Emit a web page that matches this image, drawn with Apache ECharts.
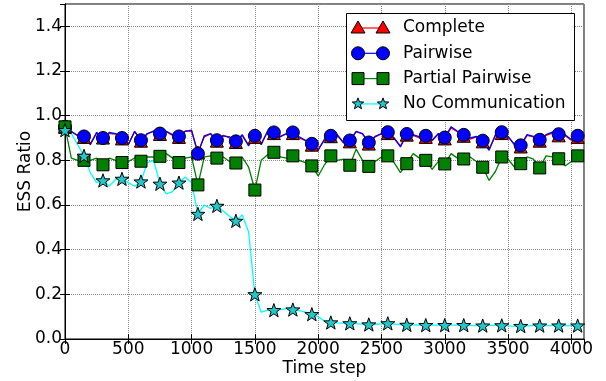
<!DOCTYPE html>
<html>
<head>
<meta charset="utf-8">
<script src="https://cdn.jsdelivr.net/npm/echarts@6/dist/echarts.min.js"></script>
<style>
html, body { margin: 0; padding: 0; background: #fff; }
#chart { width: 606px; height: 381px; }
</style>
</head>
<body>
<div id="chart"></div>
<script>
// time steps sampled every 50, markers every 150 (every 3rd point)
const steps = [0, 50, 100, 150, 200, 250, 300, 350, 400, 450,
  500, 550, 600, 650, 700, 750, 800, 850, 900, 950,
  1000, 1050, 1100, 1150, 1200, 1250, 1300, 1350, 1400, 1450,
  1500, 1550, 1600, 1650, 1700, 1750, 1800, 1850, 1900, 1950,
  2000, 2050, 2100, 2150, 2200, 2250, 2300, 2350, 2400, 2450,
  2500, 2550, 2600, 2650, 2700, 2750, 2800, 2850, 2900, 2950,
  3000, 3050, 3100, 3150, 3200, 3250, 3300, 3350, 3400, 3450,
  3500, 3550, 3600, 3650, 3700, 3750, 3800, 3850, 3900, 3950,
  4000, 4050, 4100]

const complete = [0.95, 0.928, 0.912, 0.905, 0.875, 0.922, 0.902, 0.92, 0.918, 0.898,
  0.872, 0.928, 0.888, 0.918, 0.932, 0.918, 0.928, 0.912, 0.905, 0.932,
  0.93, 0.835, 0.905, 0.918, 0.888, 0.912, 0.9, 0.882, 0.91, 0.87,
  0.905, 0.875, 0.928, 0.922, 0.908, 0.918, 0.922, 0.9, 0.888, 0.87,
  0.85, 0.89, 0.908, 0.912, 0.878, 0.885, 0.928, 0.918, 0.875, 0.905,
  0.918, 0.922, 0.898, 0.865, 0.915, 0.912, 0.9, 0.905, 0.888, 0.918,
  0.898, 0.945, 0.928, 0.91, 0.895, 0.905, 0.885, 0.85, 0.91, 0.922,
  0.905, 0.872, 0.862, 0.912, 0.905, 0.888, 0.912, 0.922, 0.912, 0.91,
  0.89, 0.905, 0.912]

const pairwise = [0.95, 0.93, 0.91, 0.907, 0.87, 0.925, 0.90, 0.925, 0.92, 0.90,
  0.87, 0.93, 0.89, 0.92, 0.93, 0.92, 0.93, 0.915, 0.907, 0.93,
  0.935, 0.83, 0.91, 0.92, 0.89, 0.91, 0.905, 0.885, 0.915, 0.865,
  0.91, 0.87, 0.93, 0.925, 0.905, 0.92, 0.925, 0.905, 0.89, 0.874,
  0.845, 0.895, 0.91, 0.915, 0.88, 0.889, 0.93, 0.92, 0.88, 0.907,
  0.92, 0.926, 0.90, 0.86, 0.918, 0.915, 0.905, 0.91, 0.89, 0.92,
  0.902, 0.95, 0.93, 0.914, 0.90, 0.907, 0.888, 0.845, 0.915, 0.926,
  0.907, 0.87, 0.867, 0.915, 0.907, 0.892, 0.915, 0.926, 0.917, 0.915,
  0.893, 0.91, 0.915]

const partialPairwise = [0.95, 0.81, 0.80, 0.80, 0.80, 0.81, 0.78, 0.81, 0.80, 0.79,
  0.795, 0.81, 0.796, 0.815, 0.815, 0.818, 0.83, 0.81, 0.79, 0.81,
  0.815, 0.69, 0.815, 0.82, 0.81, 0.815, 0.795, 0.788, 0.815, 0.77,
  0.667, 0.80, 0.825, 0.836, 0.815, 0.81, 0.82, 0.80, 0.79, 0.775,
  0.73, 0.78, 0.82, 0.80, 0.805, 0.778, 0.85, 0.80, 0.773, 0.795,
  0.815, 0.82, 0.79, 0.745, 0.785, 0.83, 0.81, 0.80, 0.76, 0.795,
  0.784, 0.83, 0.81, 0.806, 0.815, 0.795, 0.769, 0.71, 0.75, 0.815,
  0.805, 0.77, 0.785, 0.815, 0.805, 0.766, 0.82, 0.815, 0.807, 0.775,
  0.795, 0.82, 0.825]

const noCommunication = [0.935, 0.92, 0.87, 0.82, 0.745, 0.70, 0.71, 0.685, 0.715, 0.717,
  0.70, 0.684, 0.705, 0.79, 0.80, 0.695, 0.65, 0.66, 0.70, 0.725,
  0.70, 0.56, 0.60, 0.585, 0.596, 0.573, 0.55, 0.529, 0.555, 0.48,
  0.20, 0.12, 0.128, 0.129, 0.132, 0.136, 0.132, 0.127, 0.12, 0.111,
  0.10, 0.08, 0.074, 0.072, 0.071, 0.07, 0.069, 0.067, 0.065, 0.066,
  0.068, 0.07, 0.067, 0.064, 0.063, 0.063, 0.062, 0.062, 0.062, 0.062,
  0.062, 0.062, 0.062, 0.062, 0.061, 0.060, 0.060, 0.061, 0.061, 0.061,
  0.059, 0.058, 0.058, 0.059, 0.060, 0.060, 0.060, 0.060, 0.060, 0.060,
  0.060, 0.060, 0.060]

const FONT = 'DejaVu Sans'
const STAR = 'path://M0,-10L2.35,-3.24L9.51,-3.09L3.8,1.24L5.88,8.09L0,4L-5.88,8.09L-3.8,1.24L-9.51,-3.09L-2.35,-3.24Z'

function makeSeries(name, vals, lineColor, symbol, fill, size) {
  return {
    name: name,
    type: 'line',
    data: steps.map((s, i) => [s, vals[i]]),
    symbol: symbol,
    symbolKeepAspect: true,
    showAllSymbol: true,
    symbolSize: (v, p) => (p.dataIndex % 3 === 0 ? size : 0),
    lineStyle: { color: lineColor, width: 1.3 },
    itemStyle: { color: fill, borderColor: '#000', borderWidth: 1 },
    silent: true,
    animation: false,
  }
}

// legend drawn like matplotlib: marker - line - marker
function starPoints(cx, cy, r) {
  const pts = []
  for (let i = 0; i < 10; i++) {
    const rr = i % 2 === 0 ? r : r * 0.42
    const a = -Math.PI / 2 + i * Math.PI / 5
    pts.push([cx + rr * Math.cos(a), cy + rr * Math.sin(a)])
  }
  return pts
}

function legendMarker(kind, cx, cy, fill) {
  const st = { fill: fill, stroke: '#000', lineWidth: 1 }
  if (kind === 'triangle') {
    return { type: 'polygon', shape: { points: [[cx, cy - 7], [cx + 7, cy + 5], [cx - 7, cy + 5]] }, style: st, z: 101 }
  }
  if (kind === 'circle') {
    return { type: 'circle', shape: { cx: cx, cy: cy, r: 6.5 }, style: st, z: 101 }
  }
  if (kind === 'rect') {
    return { type: 'rect', shape: { x: cx - 6, y: cy - 6, width: 12, height: 12 }, style: st, z: 101 }
  }
  return { type: 'polygon', shape: { points: starPoints(cx, cy, 6) }, style: st, z: 101 }
}

const legendRows = [
  { label: 'Complete', kind: 'triangle', line: '#ff0000', fill: '#ff0000' },
  { label: 'Pairwise', kind: 'circle', line: '#0000ff', fill: '#0000ff' },
  { label: 'Partial Pairwise', kind: 'rect', line: '#008000', fill: '#008000' },
  { label: 'No Communication', kind: 'star', line: '#00ffff', fill: '#20c8cc' },
]

const graphic = [{
  type: 'rect',
  shape: { x: 346.5, y: 13.5, width: 228, height: 107 },
  style: { fill: '#fff', stroke: '#000', lineWidth: 1 },
  z: 100,
}]
legendRows.forEach((r, i) => {
  const y = 28 + i * 25.3
  graphic.push({ type: 'line', shape: { x1: 358, y1: y, x2: 383, y2: y }, style: { stroke: r.line, lineWidth: 1.2 }, z: 100 })
  graphic.push(legendMarker(r.kind, 358, y, r.fill))
  graphic.push(legendMarker(r.kind, 383, y, r.fill))
  graphic.push({
    type: 'text', x: 403, y: y,
    style: { text: r.label, font: '17px "DejaVu Sans"', fill: '#000', verticalAlign: 'middle' },
    z: 101,
  })
})

const tickStyle = { inside: true, length: 5, lineStyle: { color: '#000' } }
const gridLine = { show: true, lineStyle: { color: '#888', type: 'dotted', width: 1 } }

const chart = echarts.init(document.getElementById('chart'))
chart.setOption({
  animation: false,
  backgroundColor: '#fff',
  grid: { left: 65, right: 22, top: 4, bottom: 42, outerBoundsMode: 'none', containLabel: false,
    show: true, borderColor: '#000', borderWidth: 1 },
  xAxis: [{
    type: 'value', min: 0, max: 4100, interval: 500, position: 'bottom',
    name: 'Time step', nameLocation: 'middle', nameGap: 21, nameMoveOverlap: false,
    nameTextStyle: { fontFamily: FONT, fontSize: 17, color: '#000' },
    axisLine: { show: true, lineStyle: { color: '#000' } },
    axisTick: tickStyle,
    axisLabel: { showMaxLabel: false, fontFamily: FONT, fontSize: 17, color: '#000', margin: 2,
      formatter: (v) => String(v) },
    splitLine: gridLine,
  }, {
    type: 'value', min: 0, max: 4100, interval: 500, position: 'top',
    axisLine: { show: true, lineStyle: { color: '#000' } },
    axisTick: tickStyle, axisLabel: { show: false }, splitLine: { show: false },
  }],
  yAxis: [{
    type: 'value', min: 0, max: 1.5, interval: 0.2, position: 'left',
    name: 'ESS Ratio', nameLocation: 'middle', nameGap: 31, nameRotate: 90, nameMoveOverlap: false,
    nameTextStyle: { fontFamily: FONT, fontSize: 17, color: '#000' },
    axisLine: { show: true, lineStyle: { color: '#000' } },
    axisTick: tickStyle,
    axisLabel: { showMaxLabel: false, fontFamily: FONT, fontSize: 17, color: '#000', margin: 3,
      formatter: (v) => v.toFixed(1) },
    splitLine: gridLine,
  }, {
    type: 'value', min: 0, max: 1.5, interval: 0.2, position: 'right',
    axisLine: { show: true, lineStyle: { color: '#000' } },
    axisTick: tickStyle, axisLabel: { show: false }, splitLine: { show: false },
  }],
  series: [
    makeSeries('Complete', complete, '#ff0000', 'triangle', '#ff0000', 13),
    makeSeries('Pairwise', pairwise, '#0000ff', 'circle', '#0000ff', 13),
    makeSeries('Partial Pairwise', partialPairwise, '#008000', 'rect', '#008000', 12),
    makeSeries('No Communication', noCommunication, '#00ffff', STAR, '#20c8cc', 14),
  ],
  graphic: graphic,
})
</script>
</body>
</html>
